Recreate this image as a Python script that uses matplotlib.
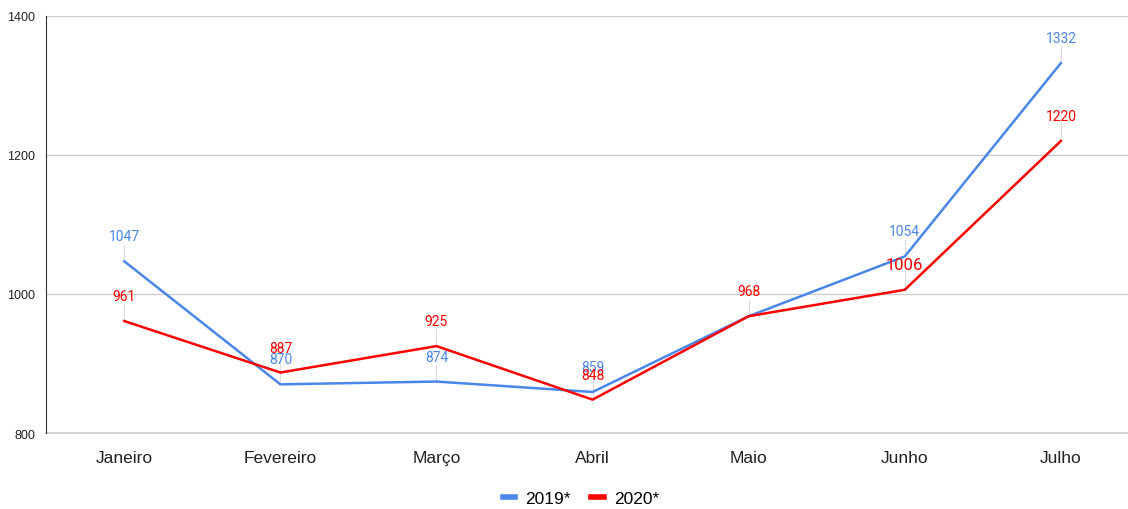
import matplotlib.pyplot as plt

meses = ['Janeiro', 'Fevereiro', 'Março', 'Abril', 'Maio', 'Junho', 'Julho']
v2019 = [1047, 870, 874, 859, 968, 1054, 1332]
v2020 = [961, 887, 925, 848, 968, 1006, 1220]

azul = '#4a86e8'
vermelho = '#ff0000'

fig = plt.figure(figsize=(11.28, 5.10), dpi=100)
ax = fig.add_axes([0.041, 0.149, 0.959, 0.818])

x = range(len(meses))
ax.plot(x, v2019, color=azul, lw=1.8, label='2019*', zorder=3)
ax.plot(x, v2020, color=vermelho, lw=1.8, label='2020*', zorder=3)

# rótulos de dados com linha guia
def rotulos(vals, cor, skip=(), grande=()):
    for i, v in enumerate(vals):
        if i in skip:
            continue
        tam = 12 if i in grande else 10
        ax.plot([i, i], [v, v + 24], color='#dddddd', lw=0.8, zorder=1)
        ax.annotate(str(v), (i, v), xytext=(0, 18), textcoords='offset pixels',
                    ha='center', va='bottom', color=cor, fontsize=tam, family='Roboto')

rotulos(v2019, azul, skip=(4,))
rotulos(v2020, vermelho, grande=(5,))

ax.set_xlim(-0.5, 6.43)
ax.set_ylim(800, 1400)
ax.set_yticks([800, 1000, 1200, 1400])
ax.set_xticks(list(x))
ax.set_xticklabels(meses, fontsize=12.5, family='Liberation Sans')
for t in ax.get_yticklabels():
    t.set_fontsize(9)
    t.set_family('Liberation Sans')
ax.grid(axis='y', color='#cccccc', lw=1)
ax.axhline(800, color='#cccccc', lw=1.2, clip_on=False, zorder=0)
ax.set_axisbelow(True)
for s in ['top', 'right', 'bottom']:
    ax.spines[s].set_visible(False)
ax.spines['left'].set_color('#333333')
ax.tick_params(axis='x', length=0, pad=12, colors='#222222')
ax.tick_params(axis='y', length=0, pad=8, colors='#222222')

leg = fig.legend(loc='lower center', ncol=2, frameon=False, bbox_to_anchor=(0.515, -0.025),
                 handlelength=0.7, handletextpad=0.6, columnspacing=1.2,
                 prop={'family': 'Liberation Sans', 'size': 12.5})
for h in leg.get_lines():
    h.set_linewidth(4)

fig.savefig('out.png')
